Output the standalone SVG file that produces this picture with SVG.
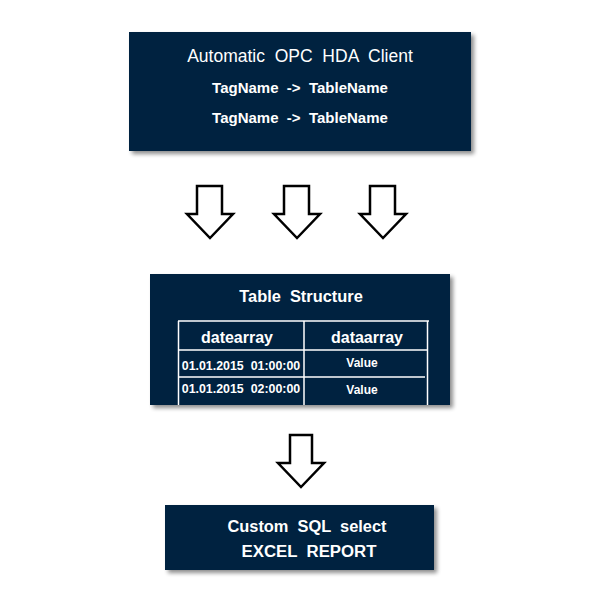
<svg xmlns="http://www.w3.org/2000/svg" width="600" height="600" viewBox="0 0 600 600">
<defs>
<filter id="sh" x="-10%" y="-10%" width="125%" height="130%">
<feGaussianBlur in="SourceAlpha" stdDeviation="2"/>
<feOffset dx="3" dy="3" result="b"/>
<feComponentTransfer><feFuncA type="linear" slope="0.45"/></feComponentTransfer>
<feMerge><feMergeNode/><feMergeNode in="SourceGraphic"/></feMerge>
</filter>
<style>
.box{fill:#03243f;filter:url(#sh)}
.t{font-family:"Liberation Sans",Arial,sans-serif;fill:#fff;text-anchor:middle}
.b{font-weight:bold}
.ln{stroke:#fff;stroke-width:1.5;fill:none}
.arr{fill:#fff;stroke:#000;stroke-width:2.5;stroke-linejoin:miter}
</style>
</defs>
<rect width="600" height="600" fill="#fff"/>
<g id="client">
<rect class="box" x="129" y="32" width="342" height="119"/>
<text class="t" x="300" y="62" font-size="17.5" style="white-space:pre">Automatic  OPC  HDA  Client</text>
<text class="t b" x="300" y="93" font-size="15" style="white-space:pre">TagName  -&gt;  TableName</text>
<text class="t b" x="300" y="123" font-size="15" style="white-space:pre">TagName  -&gt;  TableName</text>
</g>
<g id="table">
<rect class="box" x="150" y="274" width="300" height="131"/>
<text class="t b" x="301" y="302" font-size="16.4" style="white-space:pre">Table  Structure</text>
<line class="ln" x1="178" y1="321" x2="429" y2="321" stroke-width="2"/>
<line class="ln" x1="178.5" y1="321" x2="178.5" y2="405"/>
<line class="ln" x1="304" y1="321" x2="304" y2="405"/>
<line class="ln" x1="427.5" y1="321" x2="427.5" y2="405"/>
<line class="ln" x1="178" y1="350" x2="428" y2="350"/>
<line class="ln" x1="178" y1="377" x2="425" y2="377"/>
<text class="t b" x="237" y="343" font-size="16">datearray</text>
<text class="t b" x="367" y="343" font-size="16">dataarray</text>
<text class="t b" x="241" y="370" font-size="12.4" style="white-space:pre">01.01.2015  01:00:00</text>
<text class="t b" x="362" y="367" font-size="12">Value</text>
<text class="t b" x="241" y="393" font-size="12.4" style="white-space:pre">01.01.2015  02:00:00</text>
<text class="t b" x="362" y="394" font-size="12">Value</text>
</g>
<g id="report">
<rect class="box" x="165" y="505" width="269" height="65"/>
<text class="t b" x="307" y="532" font-size="16.4" style="white-space:pre">Custom  SQL  select</text>
<text class="t b" x="309" y="557" font-size="16.8" style="white-space:pre">EXCEL  REPORT</text>
</g>
<g id="connectors">
<path class="arr" d="M197,186 H222 V214 H233 L210,238 L187,214 H197 Z"/>
<path class="arr" d="M284,186 H309 V214 H320 L297,238 L274,214 H284 Z"/>
<path class="arr" d="M370,186 H395 V214 H406 L383,238 L360,214 H370 Z"/>
<path class="arr" d="M290,435 H312 V463 H324 L301,487 L278,463 H290 Z"/>
</g>
</svg>
